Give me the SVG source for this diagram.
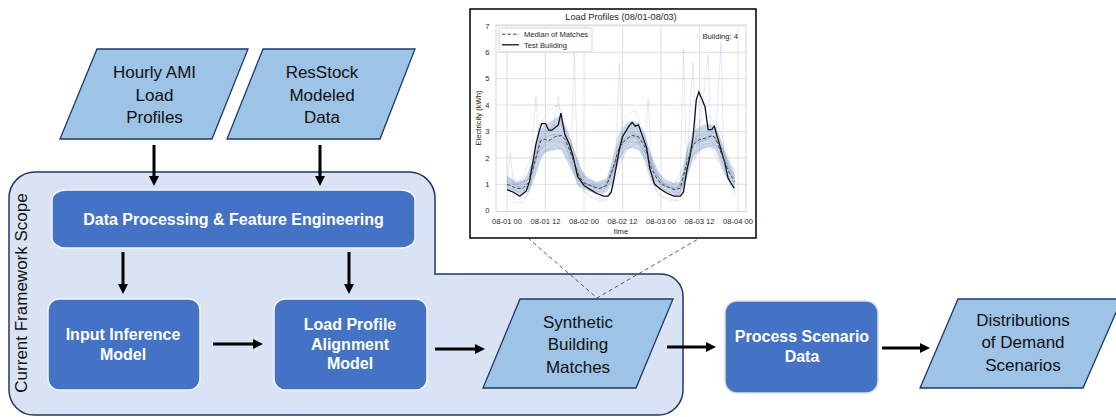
<svg xmlns="http://www.w3.org/2000/svg" width="1116" height="417" viewBox="0 0 1116 417">
<style>
.para{fill:#9DC3E6;stroke:#203864;stroke-width:1.3}
.dark{fill:#4472C4;stroke:#f4f6fb;stroke-width:1.5}
.arrow{stroke:#000;stroke-width:3;fill:none;marker-end:url(#ah)}
.lbl{font-family:"Liberation Sans",Arial,sans-serif;font-size:17px;fill:#111;text-anchor:middle}
.blbl{font-family:"Liberation Sans",Arial,sans-serif;font-size:16px;font-weight:bold;fill:#fff;text-anchor:middle}
.ct{font-family:"Liberation Sans",Arial,sans-serif;font-size:7.6px;fill:#262626}
.title{font-size:9.2px}
.grid{stroke:#dddddd;stroke-width:0.9;fill:none}
.faint{fill:none;stroke:#4C72B0;stroke-opacity:0.2;stroke-width:0.8;vector-effect:non-scaling-stroke}
</style>
<defs>
<marker id="ah" viewBox="0 0 10 10" refX="1" refY="5" markerWidth="10" markerHeight="10" markerUnits="userSpaceOnUse" orient="auto">
<path d="M0,0 L10,5 L0,10 z" fill="#000"/>
</marker>
<clipPath id="plotclip"><rect x="496" y="25" width="250" height="186.5"/></clipPath>
</defs>
<rect width="1116" height="417" fill="#fff"/>

<g id="scope">
<path d="M35,172 H409 A26,26 0 0 1 435,198 V274 H661 A22,22 0 0 1 683,296 V390 A25,25 0 0 1 658,415 H34 A25,25 0 0 1 9,390 V198 A26,26 0 0 1 35,172 Z" fill="#DAE3F3" stroke="#203864" stroke-width="1.5"/>
<text class="lbl" transform="translate(27,293) rotate(-90)">Current Framework Scope</text>
</g>

<g id="chart">
<rect x="470" y="9" width="286" height="229" fill="#fff" stroke="#000" stroke-width="1.5"/>
<text class="ct title" x="621" y="20" text-anchor="middle">Load Profiles (08/01-08/03)</text>
<rect x="496" y="25" width="250" height="186.5" fill="#fff" stroke="#d5d5d5" stroke-width="1"/>
<g class="grid">
<path d="M496,184.3H746M496,157.9H746M496,131.5H746M496,105.1H746M496,78.7H746M496,52.3H746M496,25.9H746"/>
<path d="M507,25V211.5M545.5,25V211.5M584,25V211.5M622.5,25V211.5M661,25V211.5M699.5,25V211.5M738,25V211.5"/>
</g>
<g class="ct" text-anchor="end">
<text x="489.5" y="213.4">0</text><text x="489.5" y="187">1</text><text x="489.5" y="160.6">2</text><text x="489.5" y="134.2">3</text><text x="489.5" y="107.8">4</text><text x="489.5" y="81.4">5</text><text x="489.5" y="55">6</text><text x="489.5" y="28.6">7</text>
</g>
<g class="ct" text-anchor="middle">
<text x="507" y="224">08-01 00</text><text x="545.5" y="224">08-01 12</text><text x="584" y="224">08-02 00</text><text x="622.5" y="224">08-02 12</text><text x="661" y="224">08-03 00</text><text x="699.5" y="224">08-03 12</text><text x="738" y="224">08-04 00</text>
<text x="621" y="233.5">time</text>
<text transform="translate(481,118) rotate(-90)">Electricity (kWh)</text>
</g>
<g clip-path="url(#plotclip)">
<g transform="translate(507,210.7) scale(3.2083,-26.4)">
<polygon fill="#4C72B0" fill-opacity="0.28" points="0,1.3 3,1.1 6,1.2 8,1.9 10,3.0 12,3.3 14,3.4 16,3.6 17,3.5 19,3.0 21,2.3 23,1.6 25,1.25 28,1.1 31,1.2 33,2.0 35,2.9 37,3.3 39,3.4 41,3.3 43,2.9 45,2.1 47,1.5 49,1.2 52,1.05 54,1.1 56,2.3 58,3.0 60,3.2 63,3.3 65,3.2 67,2.6 69,1.9 71,1.4 71,0.75 69,1.1 67,1.6 65,2.3 63,2.4 60,2.3 58,2.0 56,1.2 54,0.6 52,0.55 49,0.7 47,0.85 45,1.1 43,1.9 41,2.3 39,2.4 37,2.3 35,1.9 33,1.1 31,0.7 29,0.6 27,0.65 24,0.8 22,0.95 21,1.3 19,1.8 17,2.3 15,2.3 12,2.2 10.5,2.0 9,1.4 7,0.75 5,0.6 3,0.6 0,0.8"/>
<polyline class="faint" points="0,1.1 5,0.9 8,1.5 10,2.6 14,2.9 18,2.8 20,2.2 21,6.0 22,1.4 25,1.0 30,0.9 33,1.5 36,2.7 40,2.9 44,2.0 48,1.0 52,0.8 55,1.0 58,2.6 62,2.9 65,2.8 68,1.8 71,1.2"/>
<polyline class="faint" points="0,1.2 4,1.0 8,1.8 11,3.0 15,3.1 19,2.6 23,1.4 27,1.0 31,0.9 34,2.0 38,3.0 42,2.8 46,1.4 50,0.9 54,0.9 55,6.1 56,1.6 59,2.8 63,3.0 66,2.9 69,1.6 71,1.3"/>
<polyline class="faint" points="0,0.9 4,0.7 7,0.9 10,2.3 14,2.6 18,2.6 22,1.2 26,0.8 30,0.7 34,1.8 38,2.6 42,2.6 46,1.2 50,0.7 54,0.7 57,2.0 61,2.5 65,2.6 66.7,6.4 67.5,2.2 70,1.2 71,1.0"/>
<polyline class="faint" points="0,1.0 4,0.8 9,2.0 12,2.8 16,2.9 20,2.0 24,1.0 30,0.8 34,1.9 35,5.6 36,2.5 40,2.8 44,2.0 48,1.0 53,0.8 56,1.8 58,5.6 59,2.6 63,2.7 67,2.2 71,1.0"/>
<polyline class="faint" points="0,1.3 3,1.0 7,1.2 9,4.3 10,2.6 14,3.2 17,3.4 20,2.5 24,1.2 28,0.9 32,1.2 36,2.9 40,3.2 44,2.2 48,1.1 52,0.9 56,2.0 60,3.0 62.7,5.9 63.5,2.9 67,2.4 71,1.4"/>
<polyline class="faint" points="0,0.7 3,0.4 6,0.5 9,1.6 12,2.3 16,2.4 20,1.8 23,0.8 27,0.5 31,0.4 34,1.6 38,2.4 42,2.3 45,1.0 49,0.5 53,0.4 56,1.4 60,2.3 64,2.3 68,1.4 71,0.8"/>
<polyline class="faint" points="0,1.1 4,0.9 8,1.6 11,2.9 14,3.0 16,4.3 17,3.2 20,2.1 24,1.1 28,0.8 32,1.0 35,2.5 39,3.0 43,2.6 44,4.2 45,1.8 48,1.1 52,0.8 55,1.1 58,2.4 62,2.8 65,3.0 68,1.9 71,1.3"/>
<polyline class="faint" points="0,0.6 2,0.3 5,0.3 8,1.0 11,2.2 15,2.5 19,2.2 22,1.0 26,0.5 30,0.35 33,0.9 37,2.3 41,2.6 44,1.7 47,0.6 51,0.35 54,0.4 57,1.8 61,2.4 65,2.5 69,1.3 71,0.5"/>
<polyline class="faint" points="0,1.3 4,1.1 8,2.1 10,3.2 13,3.8 16,4.0 18,3.4 21,2.2 24,1.3 28,1.0 32,1.3 34,2.6 37,3.6 40,3.8 42,3.2 45,2.0 48,1.3 52,1.0 55,1.4 57,2.8 60,3.4 63,3.6 66,3.2 69,2.0 71,1.5"/>
<polyline class="faint" points="0,1.0 1,2.2 2,1.0 5,0.8 9,1.9 12,2.6 16,2.7 19,2.4 22,1.5 25,1.0 29,0.8 32,1.1 35,2.2 38,2.8 42,2.7 44,2.3 46,1.5 49,1.0 53,0.8 56,1.6 60,2.6 64,2.8 67,2.4 70,1.4 71,1.2"/>
<polyline fill="none" stroke="#111" stroke-width="1.3" vector-effect="non-scaling-stroke" points="0,0.8 2,0.7 4,0.55 6,0.75 7,1.1 8,1.8 9,2.5 10,3.0 10.8,3.3 12,3.3 13,3.05 14,3.05 16,3.25 16.8,3.7 18,2.9 19.5,2.5 20.5,2.1 22,1.3 24,0.95 26,0.8 28,0.65 30,0.55 31.5,0.55 32.5,0.7 33.5,1.3 35,2.3 36,2.8 38,3.2 39,3.35 40,3.2 41,3.25 42,2.9 43.5,2.4 44.5,1.6 46,1.0 48,0.8 50,0.65 52,0.55 54,0.55 55,0.7 56,1.5 57,2.05 58,2.8 59,4.2 59.8,4.5 61.7,3.95 62.7,3.07 63.8,3.07 64.6,3.2 65.8,2.7 67.9,1.8 68.9,1.24 70.8,0.86"/>
</g>
<polyline fill="none" stroke="#444" stroke-width="1" stroke-dasharray="3.5 2" points="507,184.3 516.6,188.3 523,188.3 529.5,181.7 535.9,157.9 540.7,140.7 545.5,139.4 548.7,140.7 555.1,136.8 561.5,135.5 564.7,139.4 569.6,150 574.4,163.2 579.2,176.4 584,183 593.6,186.9 600,188.3 606.5,185.6 612.9,168.5 619.3,147.3 625.7,139.4 632.1,135.5 638.5,136.8 645,147.3 651.4,168.5 657.8,180.3 664.2,185.6 673.8,189.6 680.3,188.3 686.7,163.2 693.1,144.7 699.5,139.4 705.9,138.1 712.3,135.5 715.5,138.1 722,155.3 728.4,171.1 734.8,181.7"/>
</g>
<rect x="499" y="28" width="93" height="24" rx="1.5" fill="#fff" fill-opacity="0.85" stroke="#cccccc" stroke-width="0.8"/>
<line x1="502" y1="34.2" x2="519" y2="34.2" stroke="#444" stroke-width="1" stroke-dasharray="3.5 2"/>
<line x1="502" y1="44.8" x2="519" y2="44.8" stroke="#111" stroke-width="1.3"/>
<text class="ct" x="524" y="37">Median of Matches</text>
<text class="ct" x="524" y="47.6">Test Building</text>
<text class="ct" x="738" y="38.6" text-anchor="end">Building: 4</text>
</g>

<g id="connectors">
<line class="arrow" x1="154" y1="145" x2="154" y2="177"/>
<line class="arrow" x1="320" y1="145" x2="320" y2="177"/>
<line class="arrow" x1="123" y1="252" x2="123" y2="285"/>
<line class="arrow" x1="349" y1="252" x2="349" y2="285"/>
<line class="arrow" x1="213" y1="344" x2="254" y2="344"/>
<line class="arrow" x1="435" y1="349" x2="476" y2="349"/>
<line class="arrow" x1="667" y1="347" x2="707" y2="347"/>
<line class="arrow" x1="882" y1="348" x2="921" y2="348"/>
<path d="M528,238 L597,298 L700,238" fill="none" stroke="#333" stroke-width="0.8" stroke-dasharray="4 3"/>
</g>

<g id="hourly-ami">
<polygon class="para" points="97,49 248,49 212,139 60,139"/>
<text class="lbl" x="154.5" y="78.3">Hourly AMI</text>
<text class="lbl" x="154.5" y="100.8">Load</text>
<text class="lbl" x="154.5" y="123.3">Profiles</text>
</g>
<g id="resstock">
<polygon class="para" points="263,49 415,49 380,139 227,139"/>
<text class="lbl" x="322" y="78.3">ResStock</text>
<text class="lbl" x="322" y="100.8">Modeled</text>
<text class="lbl" x="322" y="123.3">Data</text>
</g>
<g id="data-processing">
<rect class="dark" x="52" y="190" width="363" height="58" rx="14" ry="10"/>
<text class="blbl" x="233.5" y="224.5">Data Processing &amp; Feature Engineering</text>
</g>
<g id="input-inference">
<rect class="dark" x="48" y="299" width="152" height="91" rx="11"/>
<text class="blbl" x="123" y="340">Input Inference</text>
<text class="blbl" x="123" y="360">Model</text>
</g>
<g id="load-profile-alignment">
<rect class="dark" x="274" y="299" width="153" height="91" rx="11"/>
<text class="blbl" x="350" y="330">Load Profile</text>
<text class="blbl" x="350" y="349.5">Alignment</text>
<text class="blbl" x="350" y="369">Model</text>
</g>
<g id="synthetic-matches">
<polygon class="para" points="520,299 673,299 636,388 483,388"/>
<text class="lbl" x="578" y="327.5">Synthetic</text>
<text class="lbl" x="578" y="350">Building</text>
<text class="lbl" x="578" y="372.5">Matches</text>
</g>
<g id="process-scenario">
<rect class="dark" x="725" y="301" width="153" height="92" rx="12" style="stroke:#d8dfec"/>
<text class="blbl" x="802" y="342">Process Scenario</text>
<text class="blbl" x="802" y="362">Data</text>
</g>
<g id="distributions">
<polygon class="para" points="958,299 1122,299 1083,388 920,388"/>
<text class="lbl" x="1023" y="325.7">Distributions</text>
<text class="lbl" x="1023" y="348">of Demand</text>
<text class="lbl" x="1023" y="370.5">Scenarios</text>
</g>
</svg>
